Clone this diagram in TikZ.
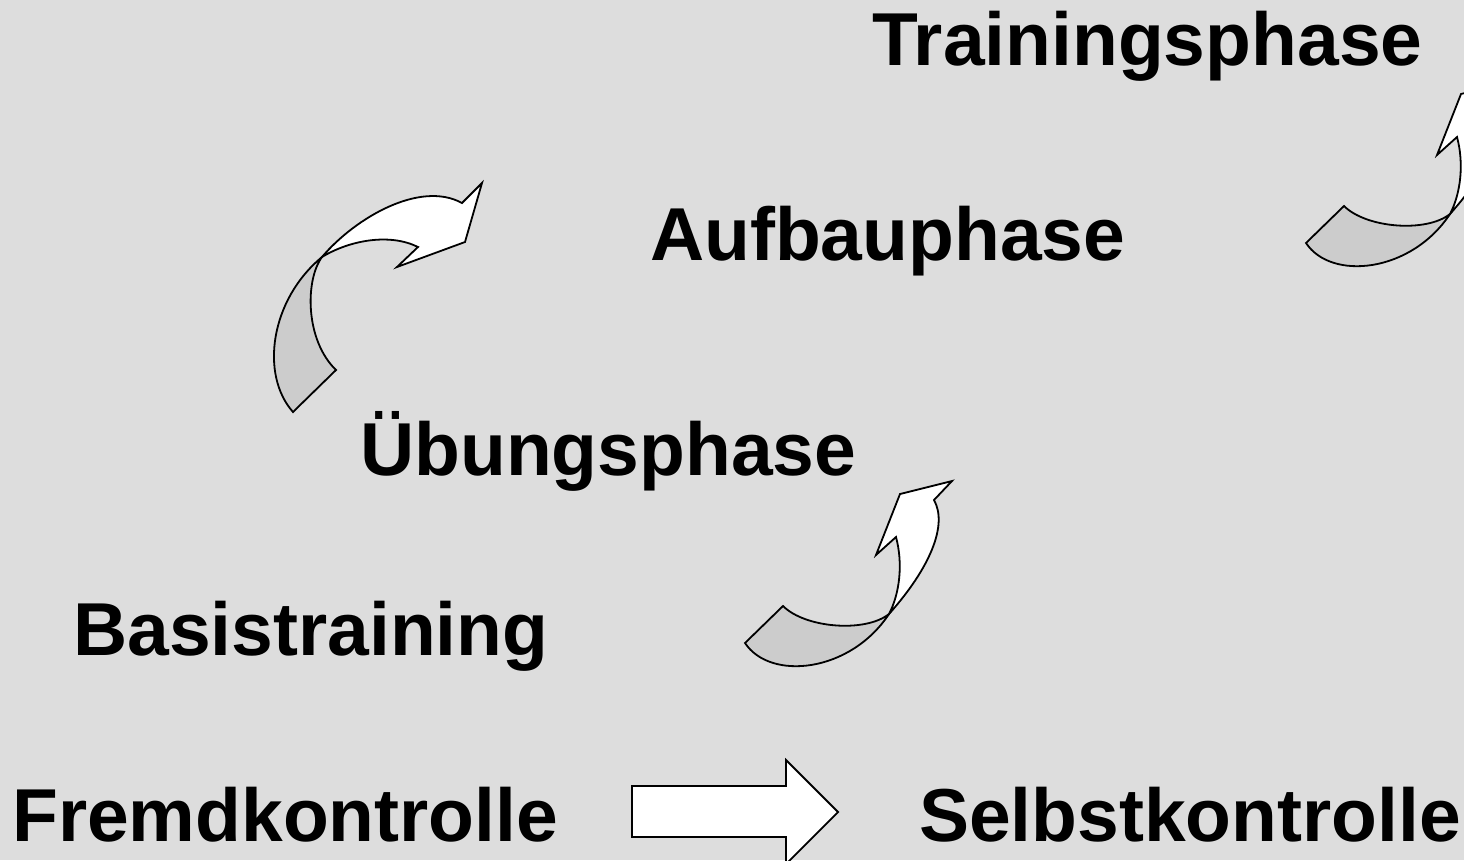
\documentclass[tikz,border=0pt]{standalone}
\usepackage{fontspec}
\setmainfont{Liberation Sans}
\usepackage{tikz}
\usetikzlibrary{positioning}

\definecolor{slidegray}{RGB}{221,221,221}
\definecolor{backgray}{RGB}{204,204,204}

\tikzset{
  backface/.style={draw=black, fill=backgray, line width=1.8pt, line join=miter},
  frontface/.style={draw=black, fill=white, line width=1.8pt, line join=miter},
  phase/.style={anchor=base west, inner sep=0pt, font=\fontsize{75}{80}\selectfont\bfseries}
}

% curved arrow, tail on the left, head pointing up
\newcommand{\risearrow}[1]{%
  \begin{scope}[shift={#1}]
    \filldraw[backface] (0,0) -- (38,-37) .. controls (60,-15) and (120,-10) .. (144,-29)
      .. controls (105,30) and (25,38) .. cycle;
    \filldraw[frontface] (144,-29) .. controls (185,-75) and (203,-118) .. (189,-143)
      -- (207,-162) -- (155,-149) -- (131,-88) -- (151,-106)
      .. controls (158,-80) and (155,-50) .. cycle;
  \end{scope}}

\begin{document}
\begin{tikzpicture}[x=1pt,y=-1pt]
				\useasboundingbox (0,0) rectangle (1464,860);
				\clip (0,0) rectangle (1464,860);
				\fill[slidegray] (0,0) rectangle (1464,860);
				
				\node[phase] (training) at (872,65) {Trainingsphase};
				\node[phase] (aufbau) at (650,260) {Aufbauphase};
				\node[phase] (uebung) at (360,475) {Übungsphase};
				\node[phase] (basis) at (73,655) {Basistraining};
				\node[phase] (fremd) at (12,841) {Fremdkontrolle};
				\node[phase] (selbst) at (919,841) {Selbstkontrolle};
				
				% arrow from Übungsphase up to Aufbauphase
				\filldraw[backface] (293,412) -- (336,370) .. controls (305,340) and (305,280) .. (322,257)
				.. controls (270,300) and (260,375) .. cycle;
				\filldraw[frontface] (322,257) .. controls (355,218) and (420,180) .. (462,203)
				-- (482,183) -- (465,242) -- (397,267) -- (418,247)
				.. controls (390,233) and (350,240) .. cycle;
				
				\risearrow{(745,643)}
				\risearrow{(1306,243)}
				
				% Fremdkontrolle -> Selbstkontrolle
				\filldraw[frontface] (632,786) -- (786,786) -- (786,760) -- (838,812)
				-- (786,864) -- (786,837) -- (632,837) -- cycle;
				
\end{tikzpicture}
\end{document}
